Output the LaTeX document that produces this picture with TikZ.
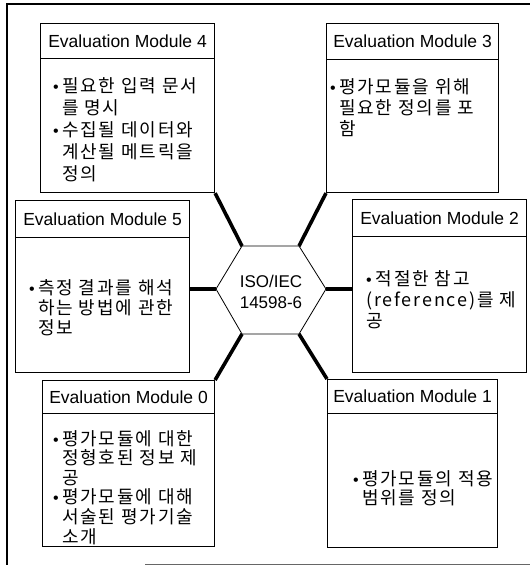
\documentclass[tikz,border=0pt]{standalone}
\usepackage{fontspec}
\setmainfont{Liberation Sans}
\newfontfamily\krfont[LetterSpace=10]{Noto Sans CJK KR}
\newcommand\mybul{\llap{{\normalfont\fontsize{16}{20}\selectfont •}\hspace{3.5pt}}}
\begin{document}
\begin{tikzpicture}[x=1pt,y=-1pt,
  box/.style={draw, line width=1.1pt, inner sep=0pt, anchor=north west},
  titletext/.style={font=\fontsize{17.5}{20}\selectfont},
  body/.style={anchor=north west, inner sep=0pt, align=left},
  link/.style={line width=3.6pt},
  hexline/.style={line width=0.8pt, line join=miter},
  frame/.style={line width=1.5pt}]
\useasboundingbox (0,0) rectangle (530,565);
% outer frame
\draw[frame] (7,566) -- (7,4) -- (532,4);
\draw[line width=1pt, black!60] (145,564) -- (532,564);

% Module 4
\node[box, titletext, minimum width=174pt, minimum height=35pt] (t4) at (40,23) {Evaluation Module 4};
\node[box, minimum width=174pt, minimum height=134pt] (b4) at (40,58) {};
\node[body, font=\krfont\fontsize{18}{22}\selectfont] (x4) at (62,77)
  {\mybul 필요한 입력 문서\\를 명시\\\mybul 수집될 데이터와\\계산될 메트릭을\\정의};

% Module 3
\node[box, titletext, minimum width=172pt, minimum height=36pt] (t3) at (326,23) {Evaluation Module 3};
\node[box, minimum width=172pt, minimum height=133pt] (b3) at (326,59) {};
\node[body, font=\krfont\fontsize{18}{21}\selectfont] (x3) at (339,78)
  {\mybul 평가모듈을 위해\\필요한 정의를 포\\함};

% Module 5
\node[box, titletext, minimum width=174pt, minimum height=37pt] (t5) at (15,200) {Evaluation Module 5};
\node[box, minimum width=174pt, minimum height=135pt] (b5) at (15,237) {};
\node[body, font=\krfont\fontsize{18}{20}\selectfont] (x5) at (38,279)
  {\mybul 측정 결과를 해석\\하는 방법에 관한\\정보};

% Module 2
\node[box, titletext, minimum width=174pt, minimum height=37pt] (t2) at (352,199) {Evaluation Module 2};
\node[box, minimum width=174pt, minimum height=136pt] (b2) at (352,236) {};
\node[body, font=\krfont\fontsize{18}{21}\selectfont] (x2) at (366,270)
  {{\normalfont\fontsize{16}{20}\selectfont •}\hspace{4pt}적절한 참고\\(reference)를 제\\공};

% Module 0
\node[box, titletext, minimum width=172pt, minimum height=33pt] (t0) at (42,380) {Evaluation Module 0};
\node[box, minimum width=172pt, minimum height=133pt] (b0) at (42,413) {};
\node[body, font=\krfont\fontsize{18}{19.6}\selectfont] (x0) at (62,430)
  {\mybul 평가모듈에 대한\\정형호된 정보 제\\공\\\mybul 평가모듈에 대해\\서술된 평가기술\\소개};

% Module 1
\node[box, titletext, minimum width=170pt, minimum height=34pt] (t1) at (327,379) {Evaluation Module 1};
\node[box, minimum width=170pt, minimum height=134pt] (b1) at (327,413) {};
\node[body, font=\krfont\fontsize{18}{19}\selectfont] (x1) at (362,470)
  {\mybul 평가모듈의 적용\\범위를 정의};

% central hexagon
\coordinate (hL) at (216,289);
\coordinate (hTL) at (242,246);
\coordinate (hTR) at (299,246);
\coordinate (hR) at (326,289);
\coordinate (hBR) at (299,334);
\coordinate (hBL) at (242,334);
\draw[hexline] (hL) -- (hTL) -- (hTR) -- (hR) -- (hBR) -- (hBL) -- cycle;
\node[align=center, inner sep=0pt, font=\fontsize{17}{21}\selectfont] (hex) at (271,292) {ISO/IEC\\14598-6};

% connectors
\draw[link] (hTL) -- (b4.south east);
\draw[link] (hTR) -- (b3.south west);
\draw[link] (hL) -- (hL -| b5.east);
\draw[link] (hR) -- (hR -| b2.west);
\draw[link] (hBL) -- (t0.north east);
\draw[link] (hBR) -- (t1.north west);
\end{tikzpicture}
\end{document}
